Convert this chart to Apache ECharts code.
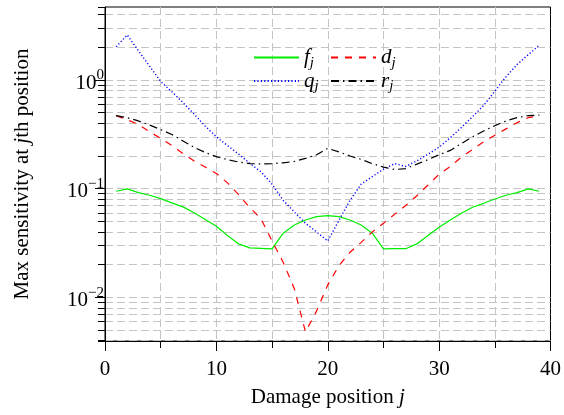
<!DOCTYPE html>
<html>
<head>
<meta charset="utf-8">
<script src="https://cdn.jsdelivr.net/npm/echarts@6/dist/echarts.min.js"></script>
<style>
html,body{margin:0;padding:0;background:#fff;}
#c{width:564px;height:415px;}
</style>
</head>
<body>
<div id="c"></div>
<script>
// ---- data ----
const positions = [1,2,3,4,5,6,7,8,9,10,11,12,13,14,15,16,17,18,19,20,21,22,23,24,25,26,27,28,29,30,31,32,33,34,35,36,37,38,39];
const fValues = [0.0946,0.0994,0.092,0.087,0.081,0.074,0.068,0.060,0.052,0.045,0.037,0.031,0.0285,0.0282,0.0279,0.0389,0.0463,0.0515,0.0553,0.0565,0.0553,0.0515,0.0463,0.0389,0.0279,0.028,0.028,0.031,0.037,0.0441,0.0515,0.0593,0.0675,0.0733,0.0804,0.0869,0.0919,0.0994,0.0946];
const dValues = [0.47,0.43,0.39,0.335,0.29,0.25,0.21,0.18,0.158,0.138,0.113,0.088,0.067,0.053,0.033,0.021,0.012,0.0048,0.0075,0.013,0.0195,0.026,0.032,0.040,0.048,0.058,0.070,0.086,0.108,0.136,0.16,0.195,0.23,0.27,0.31,0.355,0.405,0.45,0.47];
const qValues = [2.02,2.6,1.86,1.34,0.97,0.78,0.62,0.485,0.376,0.30,0.249,0.208,0.171,0.143,0.11,0.078,0.061,0.048,0.040,0.033,0.051,0.078,0.11,0.129,0.151,0.17,0.16,0.18,0.207,0.241,0.294,0.366,0.46,0.583,0.79,1.07,1.39,1.71,2.1];
const rValues = [0.47,0.45,0.42,0.385,0.35,0.315,0.275,0.24,0.215,0.197,0.185,0.176,0.17,0.169,0.17,0.173,0.178,0.19,0.205,0.235,0.218,0.2,0.186,0.17,0.158,0.15,0.153,0.168,0.185,0.205,0.225,0.26,0.3,0.34,0.38,0.42,0.45,0.47,0.476];
const seriesNames = ['f','d','q','r'];
const xTicks = [0,10,20,30,40];
const yMin = 0.00396, yMax = 4.7;
const minorMultipliers = [2,3,4,5,6,7,8,9];

const FONT = "'Liberation Serif','DejaVu Serif','Times New Roman',serif";
const GRID_COLOR = '#c4c4c4';
const GRID_DASH = [8,4];

function pairs(vals){ return positions.map((p,i)=>[p, vals[i]]); }

function yLabel(v){
  const e = Math.round(Math.log10(v));
  const p = Math.pow(10, e);
  if (Math.abs(v - p) / p > 1e-6) return '';
  return '{b|10}{s|' + (e < 0 ? '\u2212' + (-e) : String(e)) + '}';
}

// legend text: fixed column width, subscript right after the letter
const LEGEND_TEXT_W = 26;
const measureCtx = document.createElement('canvas').getContext('2d');
measureCtx.font = "italic 21px " + FONT;
const legendRich = {
  i: { fontFamily: FONT, fontSize: 21, fontStyle: 'italic', color: '#000', lineHeight: 26 }
};
seriesNames.forEach(n => {
  const w = measureCtx.measureText(n).width;
  legendRich['s' + n] = { fontFamily: FONT, fontSize: 15, fontStyle: 'italic', color: '#000', lineHeight: 16, verticalAlign: 'bottom', width: Math.max(6, LEGEND_TEXT_W - w) };
});

const yAxes = [{
  type: 'log', logBase: 10, min: yMin, max: yMax, position: 'left',
  axisLine: { show: true, lineStyle: { color: '#000', width: 1 } },
  axisTick: { show: true, length: 10, lineStyle: { color: '#000', width: 1 } },
  axisLabel: {
    margin: 1, formatter: yLabel, showMinLabel: false, showMaxLabel: false,
    padding: [6, 0, 0, 0],
    rich: {
      b: { fontFamily: FONT, fontSize: 21, color: '#000', lineHeight: 30 },
      s: { fontFamily: FONT, fontSize: 15, color: '#000', lineHeight: 14, verticalAlign: 'top' }
    }
  },
  splitLine: { show: true, showMinLine: false, showMaxLine: false, lineStyle: { color: GRID_COLOR, type: GRID_DASH, width: 1 } },
  name: '{n|Max sensitivity at }{i|j}{n|th position}',
  nameLocation: 'middle', nameGap: 72, nameRotate: 90, nameMoveOverlap: false,
  nameTextStyle: {
    rich: {
      n: { fontFamily: FONT, fontSize: 21, color: '#000' },
      i: { fontFamily: FONT, fontSize: 21, color: '#000', fontStyle: 'italic' }
    }
  }
}];
minorMultipliers.forEach(m => {
  yAxes.push({
    type: 'log', logBase: 10, min: yMin / m, max: yMax / m, position: 'left', offset: 0,
    axisLine: { show: false },
    axisTick: { show: true, length: 7, lineStyle: { color: '#000', width: 1 } },
    axisLabel: { show: false },
    splitLine: { show: true, showMinLine: false, showMaxLine: false, lineStyle: { color: GRID_COLOR, type: GRID_DASH, width: 1 } }
  });
});

const chart = echarts.init(document.getElementById('c'), null, { renderer: 'canvas' });
chart.setOption({
  animation: false,
  backgroundColor: '#fff',
  grid: { left: 105, right: 12, top: 7, bottom: 74, show: true, borderColor: '#000', borderWidth: 1, backgroundColor: 'transparent', containLabel: false },
  xAxis: {
    type: 'value', min: xTicks[0], max: xTicks[xTicks.length - 1], interval: 10,
    axisLine: { show: true, onZero: false, lineStyle: { color: '#000', width: 1 } },
    axisTick: { show: true, length: 10, lineStyle: { color: '#000' } },
    minorTick: { show: true, splitNumber: 2, length: 7, lineStyle: { color: '#000' } },
    splitLine: { show: true, showMinLine: false, showMaxLine: false, lineStyle: { color: GRID_COLOR, type: GRID_DASH, width: 1 } },
    minorSplitLine: { show: true, lineStyle: { color: GRID_COLOR, type: GRID_DASH, width: 1 } },
    axisLabel: { margin: 18, fontFamily: FONT, fontSize: 21, color: '#000' },
    name: '{n|Damage position }{i|j}',
    nameLocation: 'middle', nameGap: 46, nameMoveOverlap: false,
    nameTextStyle: {
      rich: {
        n: { fontFamily: FONT, fontSize: 21, color: '#000' },
        i: { fontFamily: FONT, fontSize: 21, color: '#000', fontStyle: 'italic' }
      }
    }
  },
  yAxis: yAxes,
  legend: {
    left: 253, top: 47, width: 160, orient: 'horizontal', padding: 0,
    itemWidth: 45, itemHeight: 14, itemGap: 0,
    itemStyle: { opacity: 0 },
    data: seriesNames,
    formatter: n => '{i|' + n + '}{s' + n + '|j}',
    textStyle: { rich: legendRich }
  },
  series: [
    { name: 'f', type: 'line', data: pairs(fValues), symbol: 'none', showSymbol: false, lineStyle: { color: '#00ee00', width: 1.2, type: 'solid' }, itemStyle: { color: '#00ee00' } },
    { name: 'd', type: 'line', data: pairs(dValues), symbol: 'none', showSymbol: false, lineStyle: { color: '#ff0000', width: 1.2, type: [7, 7] }, itemStyle: { color: '#ff0000' } },
    { name: 'q', type: 'line', data: pairs(qValues), symbol: 'none', showSymbol: false, lineStyle: { color: '#0000ff', width: 1.4, type: [1.2, 2.2] }, itemStyle: { color: '#0000ff' } },
    { name: 'r', type: 'line', data: pairs(rValues), symbol: 'none', showSymbol: false, lineStyle: { color: '#000000', width: 1.2, type: [8, 4, 1.5, 4] }, itemStyle: { color: '#000' } }
  ]
});
</script>
</body>
</html>
